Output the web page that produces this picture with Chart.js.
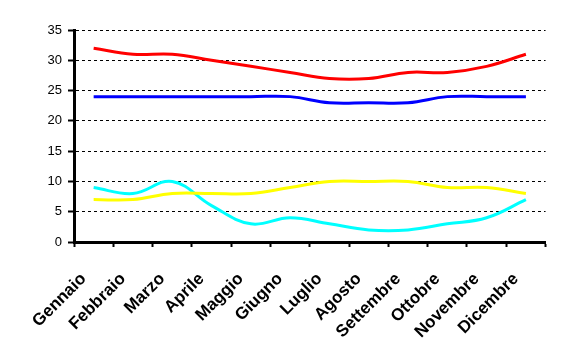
<!DOCTYPE html>
<html>
<head>
<meta charset="utf-8">
<script src="https://cdn.jsdelivr.net/npm/chart.js@4/dist/chart.umd.min.js"></script>
<style>
  html, body { margin: 0; padding: 0; background: #fff; }
  canvas { display: block; }
</style>
</head>
<body>
<canvas id="cvs" width="563" height="362"></canvas>
<script>
const mesi = ['Gennaio', 'Febbraio', 'Marzo', 'Aprile', 'Maggio', 'Giugno',
              'Luglio', 'Agosto', 'Settembre', 'Ottobre', 'Novembre', 'Dicembre'];
const rosso  = [32, 31, 31, 30, 29, 28, 27, 27, 28, 28, 29, 31];
const blu    = [24, 24, 24, 24, 24, 24, 23, 23, 23, 24, 24, 24];
const giallo = [7, 7, 8, 8, 8, 9, 10, 10, 10, 9, 9, 8];
const ciano  = [9, 8, 10, 6, 3, 4, 3, 2, 2, 3, 4, 7];

const font = 'Arial, "Liberation Sans", sans-serif';

function serie(data, color) {
    return {
        data: data,
        borderColor: color,
        backgroundColor: color,
        borderWidth: 3,
        pointRadius: 0,
        tension: 0.4,
        fill: false
    };
}

new Chart(document.getElementById('cvs'), {
    type: 'line',
    data: {
        labels: mesi,
        datasets: [
            serie(rosso, '#ff0000'),
            serie(blu, '#0000ff'),
            serie(giallo, '#ffff00'),
            serie(ciano, '#00ffff')
        ]
    },
    options: {
        responsive: false,
        animation: false,
        layout: { padding: { top: 30, right: 16, left: 0, bottom: 0 } },
        plugins: { legend: { display: false }, tooltip: { enabled: false } },
        scales: {
            x: {
                offset: true,
                grid: { offset: true, drawOnChartArea: false, color: '#000',
                        tickColor: '#000', tickWidth: 2, tickLength: 5 },
                border: { color: '#000', width: 3 },
                ticks: {
                    color: '#000', maxRotation: 45, minRotation: 45, autoSkip: false,
                    padding: 22, labelOffset: -10,
                    font: { family: font, size: 17, weight: 'bold' }
                },
                afterFit: s => { s.height = 120; }
            },
            y: {
                min: 0, max: 35,
                grid: { color: '#000', lineWidth: 1, tickColor: '#000', tickWidth: 2, tickLength: 6 },
                border: { color: '#000', width: 3, dash: [3, 3] },
                ticks: {
                    stepSize: 5, color: '#000', padding: 6,
                    font: { family: font, size: 13 }
                },
                afterFit: s => { s.width = 74; }
            }
        }
    }
});
</script>
</body>
</html>
